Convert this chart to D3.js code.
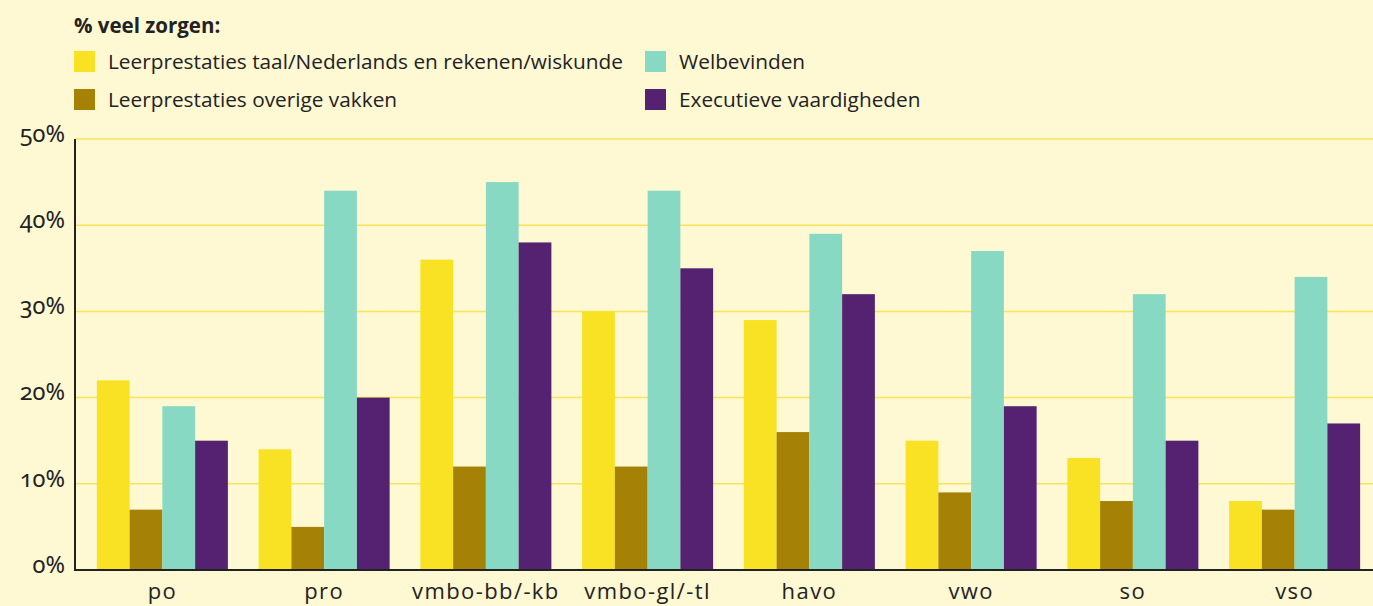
<!DOCTYPE html>
<html>
<head>
<meta charset="utf-8">
<script src="https://cdn.jsdelivr.net/npm/d3@7"></script>
<style>
  html, body { margin: 0; padding: 0; background: #fef8d3; }
  svg { display: block; font-family: 'Open Sans', sans-serif; }
  .axis text { font-family: 'Open Sans', sans-serif; }
  .tick-y text { font-family: 'Noto Sans', sans-serif; font-feature-settings: "onum" 1; font-variant-numeric: oldstyle-nums; }
</style>
</head>
<body>
<svg id="chart" width="1373" height="606"></svg>
<script>
  var categories = ['po', 'pro', 'vmbo-bb/-kb', 'vmbo-gl/-tl', 'havo', 'vwo', 'so', 'vso'];
  var seriesNames = [
    'Leerprestaties taal/Nederlands en rekenen/wiskunde',
    'Leerprestaties overige vakken',
    'Welbevinden',
    'Executieve vaardigheden'
  ];
  var taalRekenen = [22, 14, 36, 30, 29, 15, 13, 8];
  var overigeVakken = [7, 5, 12, 12, 16, 9, 8, 7];
  var welbevinden = [19, 44, 45, 44, 39, 37, 32, 34];
  var executief = [15, 20, 38, 35, 32, 19, 15, 17];
  var yTicks = [0, 10, 20, 30, 40, 50];

  var colors = ['#f9e224', '#a58206', '#87d9c4', '#542271'];
  var series = [taalRekenen, overigeVakken, welbevinden, executief];

  var svg = d3.select('#chart');
  var plotLeft = 75, plotRight = 1373, plotTop = 139, plotBottom = 570;

  var x = d3.scaleBand()
    .domain(categories)
    .range([81.5, 1375.5])
    .paddingInner(0.19)
    .paddingOuter(0.095);

  var xInner = d3.scaleBand()
    .domain(d3.range(series.length))
    .range([0, x.bandwidth()]);

  var y = d3.scaleLinear().domain([0, 50]).range([plotBottom, plotTop]);

  // gridlines
  svg.append('g')
    .selectAll('line')
    .data(yTicks.slice(1))
    .join('line')
      .attr('x1', plotLeft)
      .attr('x2', plotRight)
      .attr('y1', function (d) { return y(d); })
      .attr('y2', function (d) { return y(d); })
      .attr('stroke', '#f8e35c')
      .attr('stroke-width', 1.5);

  // bars
  var groups = svg.append('g')
    .selectAll('g')
    .data(categories)
    .join('g')
      .attr('transform', function (d) { return 'translate(' + x(d) + ',0)'; });

  groups.selectAll('rect')
    .data(function (d, i) {
      return series.map(function (s, k) { return { k: k, v: s[i] }; });
    })
    .join('rect')
      .attr('x', function (d) { return xInner(d.k); })
      .attr('width', xInner.bandwidth())
      .attr('y', function (d) { return y(d.v); })
      .attr('height', function (d) { return plotBottom - y(d.v); })
      .attr('fill', function (d) { return colors[d.k]; });

  // y axis
  var yAxis = svg.append('g')
    .attr('class', 'axis tick-y')
    .attr('transform', 'translate(' + plotLeft + ',0)')
    .call(d3.axisLeft(y).tickValues(yTicks).tickSize(0).tickPadding(10)
      .tickFormat(function (d) { return d + '%'; }));
  yAxis.attr('font-family', null);
  yAxis.select('.domain').remove();
  yAxis.selectAll('text')
    .attr('font-size', 23.5)
    .attr('fill', '#222')
    .attr('dy', '0.1em');

  // x axis
  var xAxis = svg.append('g')
    .attr('class', 'axis')
    .attr('transform', 'translate(0,' + plotBottom + ')')
    .call(d3.axisBottom(x).tickSize(0).tickPadding(13));
  xAxis.attr('font-family', null);
  xAxis.select('.domain').remove();
  xAxis.selectAll('text')
    .attr('font-size', 22)
    .attr('letter-spacing', 1.4)
    .attr('fill', '#222');

  // axis lines
  svg.append('line')
    .attr('x1', plotLeft).attr('x2', plotLeft)
    .attr('y1', plotTop).attr('y2', plotBottom + 1)
    .attr('stroke', '#222').attr('stroke-width', 2);
  svg.append('line')
    .attr('x1', plotLeft - 1).attr('x2', plotRight)
    .attr('y1', plotBottom).attr('y2', plotBottom)
    .attr('stroke', '#222').attr('stroke-width', 2);

  // legend
  svg.append('text')
    .attr('x', 74)
    .attr('y', 33)
    .attr('font-size', 20.5)
    .attr('font-weight', 'bold')
    .attr('fill', '#222')
    .text('% veel zorgen:');

  var legendPos = [[74, 51], [74, 89], [645, 51], [645, 89]];
  var legend = svg.append('g')
    .selectAll('g')
    .data(seriesNames)
    .join('g')
      .attr('transform', function (d, i) {
        return 'translate(' + legendPos[i][0] + ',' + legendPos[i][1] + ')';
      });
  legend.append('rect')
    .attr('width', 21)
    .attr('height', 21)
    .attr('fill', function (d, i) { return colors[i]; });
  legend.append('text')
    .attr('x', 34)
    .attr('y', 18)
    .attr('font-size', 20.8)
    .attr('fill', '#222')
    .text(function (d) { return d; });
</script>
</body>
</html>
